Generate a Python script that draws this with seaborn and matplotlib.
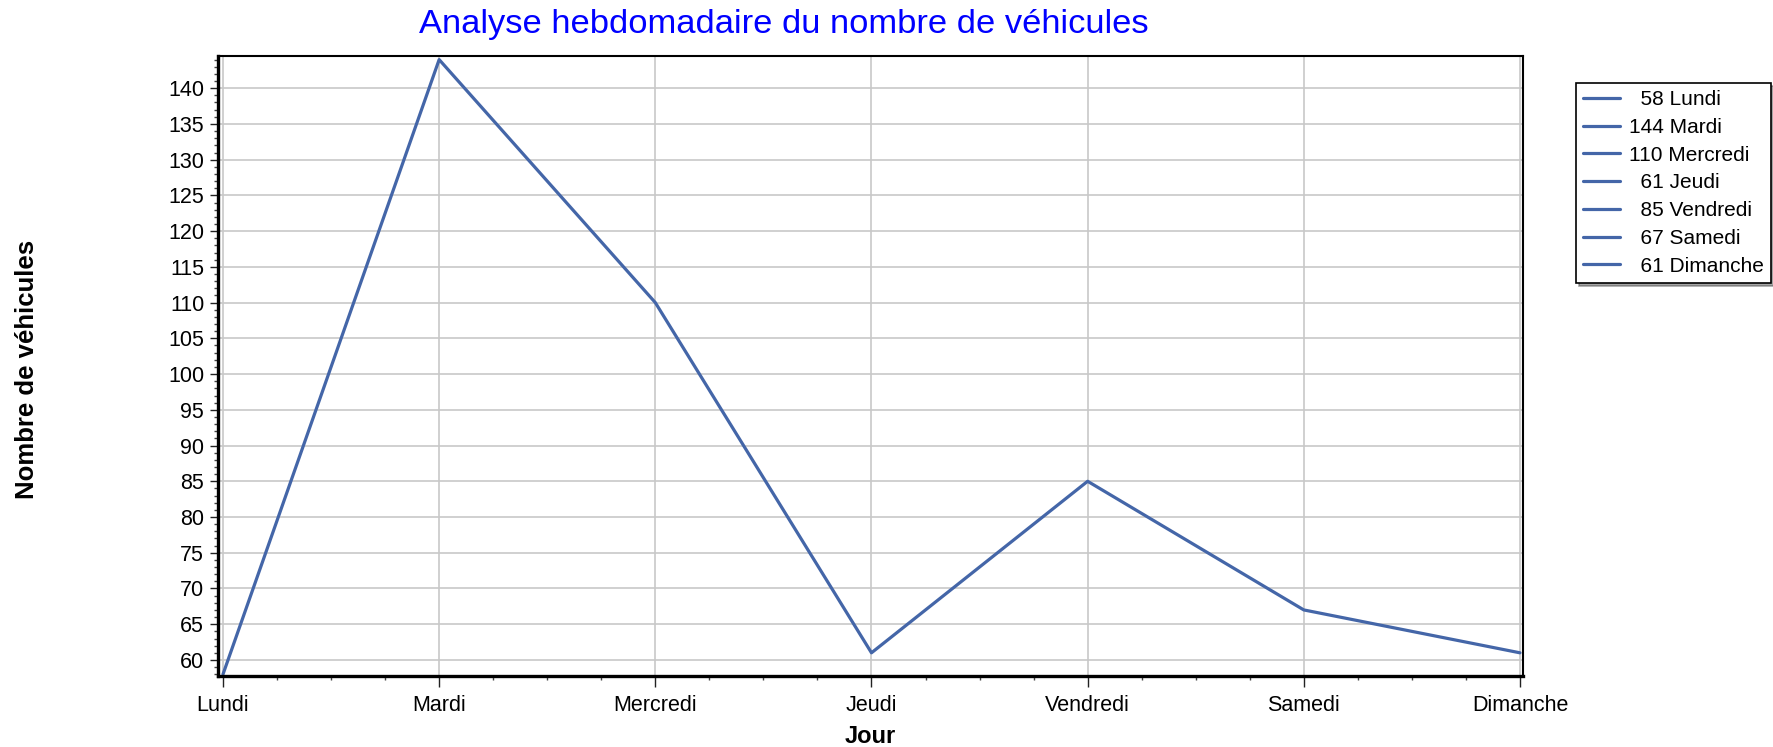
import numpy as np
import pandas as pd
import seaborn as sns
import matplotlib.pyplot as plt
from matplotlib.lines import Line2D
from matplotlib.ticker import MultipleLocator, AutoMinorLocator

# data
jours = ['Lundi', 'Mardi', 'Mercredi', 'Jeudi', 'Vendredi', 'Samedi', 'Dimanche']
vehicules = [58, 144, 110, 61, 85, 67, 61]

df = pd.DataFrame({'Jour': jours, 'Vehicules': vehicules})
df['pos'] = np.arange(len(jours))

sns.set_style('white')
plt.rcParams['font.family'] = ['Liberation Sans', 'DejaVu Sans']
plt.rcParams['text.color'] = 'black'
plt.rcParams['axes.labelcolor'] = 'black'

line_col = '#4466a8'

fig = plt.figure(figsize=(17.74, 7.47), dpi=100)
ax = fig.add_axes([0.1229, 0.095, 0.7356, 0.830])

sns.lineplot(data=df, x='pos', y='Vehicules', color=line_col, linewidth=2.3, ax=ax)

ax.set_xlim(-0.023, 6.014)
ax.set_ylim(57.75, 144.5)
ax.set_xticks(df['pos'])
ax.set_xticklabels(jours)
ax.yaxis.set_major_locator(MultipleLocator(5))
ax.yaxis.set_minor_locator(MultipleLocator(1))
ax.xaxis.set_minor_locator(AutoMinorLocator(4))

ax.grid(True, which='major', color='#c8c8c8', linewidth=1.2)
ax.tick_params(axis='both', which='both', bottom=True, left=True, top=False, right=False)
ax.tick_params(axis='both', which='major', direction='out', length=6, width=1,
               color='#222222', labelcolor='black', labelsize=15.5, pad=4)
ax.tick_params(axis='both', which='minor', direction='out', length=3, width=1, color='#444444')
ax.tick_params(axis='x', which='major', length=8, pad=5.5)

for side in ['left', 'bottom']:
    ax.spines[side].set_linewidth(2.4)
    ax.spines[side].set_color('black')
for side in ['top', 'right']:
    ax.spines[side].set_linewidth(1.5)
    ax.spines[side].set_color('black')
    ax.spines[side].set_visible(True)

ax.set_xlabel('Jour', fontsize=17, fontweight='bold', labelpad=6.5)
ax.set_ylabel('')
fig.text(0.015, 0.505, 'Nombre de véhicules', rotation=90, fontsize=18.5,
         fontweight='bold', ha='center', va='center')

fig.text(0.442, 0.967, 'Analyse hebdomadaire du nombre de véhicules', color='#0000ff',
         fontsize=24.8, ha='center', va='center')

# legend entries: value + day, two spaces pad one digit
labels = ['  ' * (3 - len(str(v))) + f"{v} {j}" for v, j in zip(vehicules, jours)]
handles = [Line2D([], [], color=line_col, linewidth=2.3) for _ in jours]
leg = fig.legend(handles, labels, loc='upper left', bbox_to_anchor=(0.8885, 0.889),
                 fontsize=15, frameon=True, fancybox=False, shadow=True,
                 handlelength=1.75, handletextpad=0.45, labelspacing=0.42,
                 borderpad=0.35, borderaxespad=0)
leg.get_frame().set_edgecolor('black')
leg.get_frame().set_linewidth(1.2)

plt.savefig('out.png', dpi=100)
